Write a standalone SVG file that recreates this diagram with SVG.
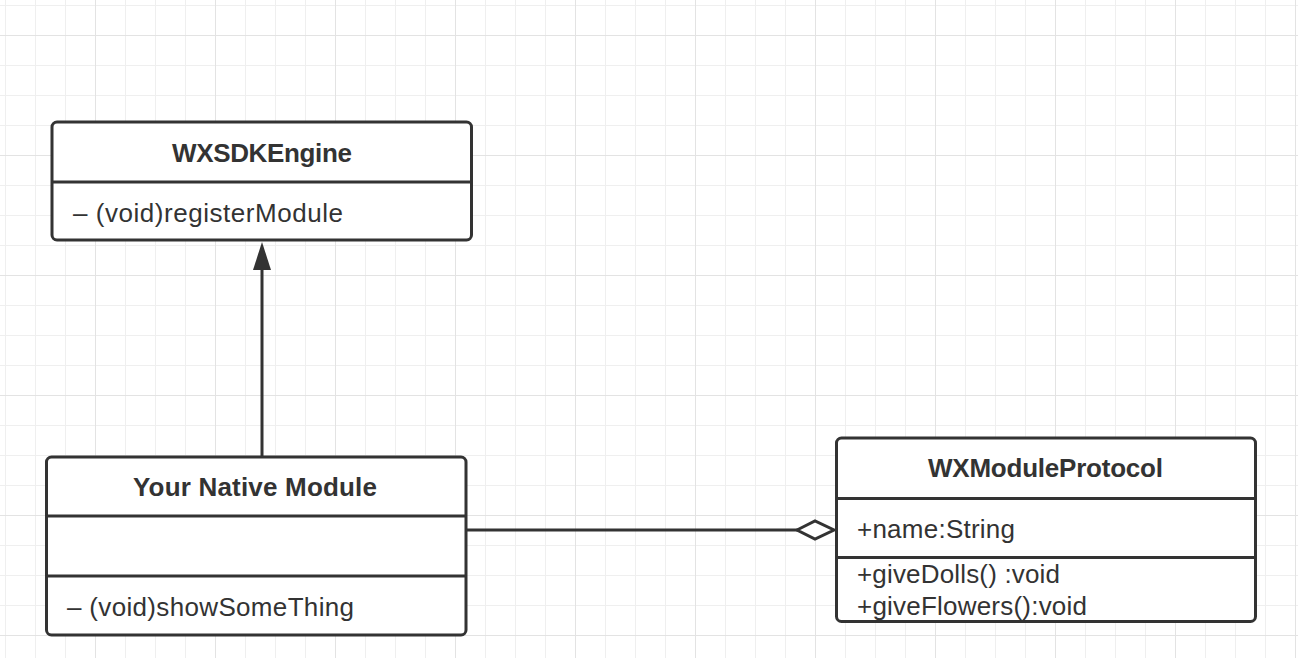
<svg xmlns="http://www.w3.org/2000/svg" width="1298" height="658" viewBox="0 0 1298 658">
  <defs>
    <pattern id="grid" x="-25" y="35" width="120" height="120" patternUnits="userSpaceOnUse">
      <rect x="0" y="0" width="120" height="120" fill="#ffffff"/>
      <rect x="30" y="0" width="1" height="120" fill="#efefef"/>
      <rect x="60" y="0" width="1" height="120" fill="#efefef"/>
      <rect x="90" y="0" width="1" height="120" fill="#efefef"/>
      <rect x="0" y="30" width="120" height="1" fill="#efefef"/>
      <rect x="0" y="60" width="120" height="1" fill="#efefef"/>
      <rect x="0" y="90" width="120" height="1" fill="#efefef"/>
      <rect x="0" y="0" width="1" height="120" fill="#e3e3e3"/>
      <rect x="0" y="0" width="120" height="1" fill="#e3e3e3"/>
    </pattern>
  </defs>
  <style>
    .box { fill: #ffffff; stroke: #333333; stroke-width: 3; }
    .sep { stroke: #333333; stroke-width: 3; }
    .title { font-family: "Liberation Sans", Arial, Helvetica, sans-serif; font-size: 26px; font-weight: bold; fill: #333333; text-anchor: middle; }
    .member { font-family: "Liberation Sans", Arial, Helvetica, sans-serif; font-size: 26px; fill: #333333; }
    .conn { stroke: #333333; stroke-width: 3; fill: none; }
  </style>
  <rect x="0" y="0" width="1298" height="658" fill="url(#grid)"/>

  <g id="connectors">
    <line class="conn" x1="262" y1="457" x2="262" y2="268"/>
    <path d="M262,242 L271,270 L253,270 Z" fill="#333333"/>
    <line class="conn" x1="466" y1="530" x2="798" y2="530"/>
    <path d="M797,530 L815,521 L834,530 L815,539 Z" fill="#ffffff" stroke="#333333" stroke-width="3" stroke-linejoin="miter"/>
  </g>

  <g id="WXSDKEngine">
    <rect class="box" x="52" y="122" width="419.5" height="118" rx="5" ry="5"/>
    <line class="sep" x1="52" y1="182" x2="471.5" y2="182"/>
    <text class="title" x="262" y="162" textLength="180" lengthAdjust="spacing">WXSDKEngine</text>
    <text class="member" x="73" y="222" textLength="270" lengthAdjust="spacing">– (void)registerModule</text>
  </g>

  <g id="YourNativeModule">
    <rect class="box" x="46.5" y="457" width="419.5" height="178" rx="5" ry="5"/>
    <line class="sep" x1="46.5" y1="516" x2="466" y2="516"/>
    <line class="sep" x1="46.5" y1="576" x2="466" y2="576"/>
    <text class="title" x="255" y="496" textLength="244" lengthAdjust="spacing">Your Native Module</text>
    <text class="member" x="67" y="616" textLength="287" lengthAdjust="spacing">– (void)showSomeThing</text>
  </g>

  <g id="WXModuleProtocol">
    <rect class="box" x="836.5" y="438" width="419" height="183.5" rx="5" ry="5"/>
    <line class="sep" x1="836.5" y1="498.5" x2="1255.5" y2="498.5"/>
    <line class="sep" x1="836.5" y1="557.5" x2="1255.5" y2="557.5"/>
    <text class="title" x="1045.5" y="477" textLength="235" lengthAdjust="spacing">WXModuleProtocol</text>
    <text class="member" x="857" y="538" textLength="158" lengthAdjust="spacing">+name:String</text>
    <text class="member" x="857" y="583" textLength="203" lengthAdjust="spacing">+giveDolls() :void</text>
    <text class="member" x="857" y="615" textLength="230" lengthAdjust="spacing">+giveFlowers():void</text>
  </g>
</svg>
